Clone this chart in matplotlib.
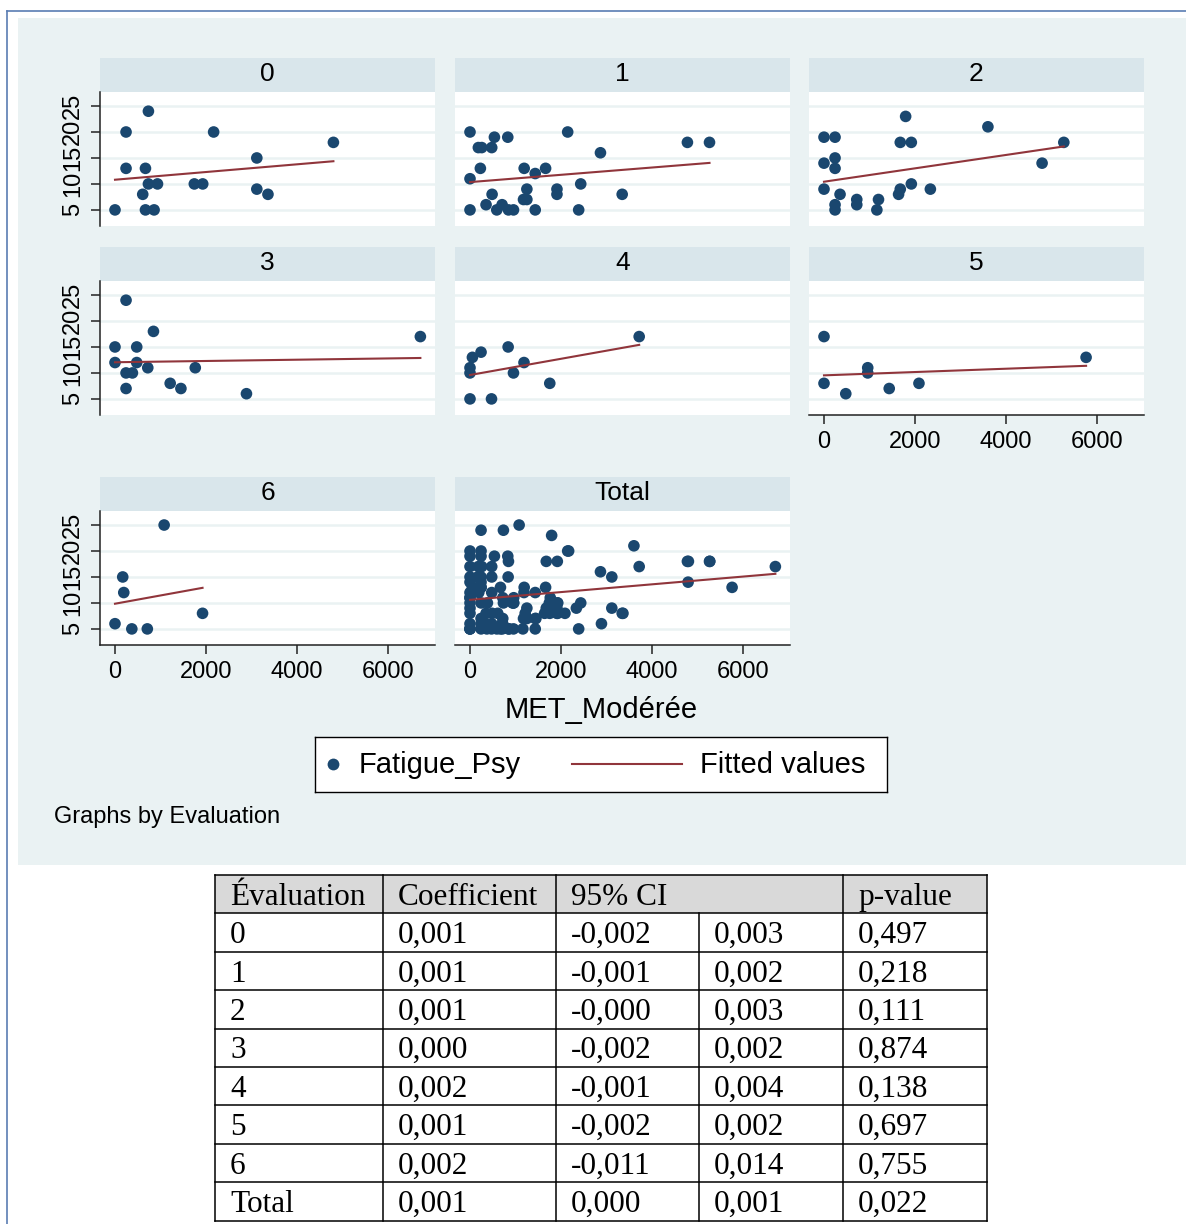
import numpy as np
import matplotlib
matplotlib.use("Agg")
import matplotlib.pyplot as plt
from matplotlib.patches import Rectangle

W, H = 1186, 1224

# MET_Modérée (x) et Fatigue_Psy (y) par évaluation
met_0 = [0, 243, 243, 735, 670, 610, 670, 860, 735, 935, 1745, 1930, 2170, 3120, 3120, 3365, 4805]
fat_0 = [5, 20, 13, 24, 13, 8, 5, 5, 10, 10, 10, 10, 20, 15, 9, 8, 18]

met_1 = [0, 537, 831, 184, 258, 478, 2149, 4783, 5269, 2870, 228, 1192, 1663, 1435, 0, 2436,
         1251, 1913, 1913, 486, 3348, 1177, 1251, 353, 706, 0, 589, 846, 957, 1435, 2391]
fat_1 = [20, 19, 19, 17, 17, 17, 20, 18, 18, 16, 13, 13, 13, 12, 11, 10,
         9, 9, 8, 8, 8, 7, 7, 6, 6, 5, 5, 5, 5, 5, 5]

met_2 = [0, 243, 0, 243, 243, 0, 353, 243, 243, 721, 721, 1199, 1163, 1641, 1678, 1921,
         2340, 1678, 1921, 1796, 3606, 4798, 5276]
fat_2 = [19, 19, 14, 15, 13, 9, 8, 6, 5, 7, 6, 7, 5, 8, 9, 10,
         9, 18, 18, 23, 21, 14, 18]

met_3 = [243, 846, 0, 478, 0, 478, 243, 383, 721, 1766, 1214, 1450, 243, 2892, 6718]
fat_3 = [24, 18, 15, 15, 12, 12, 10, 10, 11, 11, 8, 7, 7, 6, 17]

met_4 = [0, 0, 53, 243, 839, 1188, 956, 1755, 0, 473, 3722]
fat_4 = [10, 11, 13, 14, 15, 12, 10, 8, 5, 5, 17]

met_5 = [0, 0, 479, 962, 962, 1435, 2089, 5766]
fat_5 = [17, 8, 6, 11, 10, 7, 8, 13]

met_6 = [0, 170, 193, 370, 711, 1081, 1926]
fat_6 = [6, 15, 12, 5, 5, 25, 8]

groups = ["0", "1", "2", "3", "4", "5", "6"]
met_all = [met_0, met_1, met_2, met_3, met_4, met_5, met_6]
fat_all = [fat_0, fat_1, fat_2, fat_3, fat_4, fat_5, fat_6]

# tableau des régressions
tab_header = ["Évaluation", "Coefficient", "95% CI", "p-value"]
tab_eval = ["0", "1", "2", "3", "4", "5", "6", "Total"]
tab_coef = ["0,001", "0,001", "0,001", "0,000", "0,002", "0,001", "0,002", "0,001"]
tab_ci_low = ["-0,002", "-0,001", "-0,000", "-0,002", "-0,001", "-0,002", "-0,011", "0,000"]
tab_ci_high = ["0,003", "0,002", "0,003", "0,002", "0,004", "0,002", "0,014", "0,001"]
tab_pval = ["0,497", "0,218", "0,111", "0,874", "0,138", "0,697", "0,755", "0,022"]

# couleurs style Stata s2color
region_col = "#EAF2F3"
strip_col = "#D9E6EB"
navy = "#1A476F"
maroon = "#90353B"
axis_col = "#222222"
border_col = "#5A7DB3"

plt.rcParams["font.family"] = ["Liberation Sans", "DejaVu Sans"]


def box(x0, y0, w, h):
    return [x0 / W, 1 - (y0 + h) / H, w / W, h / H]


fig = plt.figure(figsize=(W / 100, H / 100), dpi=100)

bg = fig.add_axes([0, 0, 1, 1], zorder=-1)
bg.set_xlim(0, W)
bg.set_ylim(H, 0)
bg.axis("off")
bg.add_patch(Rectangle((18, 18), W - 18, 865 - 18, facecolor=region_col, edgecolor="none"))
bg.plot([7, 7], [11, H], color=border_col, lw=1.2)
bg.plot([7, W], [11, 11], color=border_col, lw=1.2)

col_x = [100, 455, 809]
row_top = [58, 247, 477]
PW, SH, PH = 335, 34, 134

panels = [(g, m, f) for g, m, f in zip(groups, met_all, fat_all)]
panels.append(("Total", sum(met_all, []), sum(fat_all, [])))
layout = [(0, 0), (0, 1), (0, 2), (1, 0), (1, 1), (1, 2), (2, 0), (2, 1)]
with_xaxis = {"5", "6", "Total"}

for (label, met, fat), (r, c) in zip(panels, layout):
    x0, y0 = col_x[c], row_top[r]

    st = fig.add_axes(box(x0, y0, PW, SH))
    st.set_facecolor(strip_col)
    st.set_xticks([])
    st.set_yticks([])
    for s in st.spines.values():
        s.set_visible(False)
    st.text(0.5, 0.52, label, ha="center", va="center", fontsize=19, transform=st.transAxes)

    ax = fig.add_axes(box(x0, y0 + SH, PW, PH))
    ax.set_facecolor("white")
    x = np.array(met, dtype=float)
    y = np.array(fat, dtype=float)
    ax.scatter(x, y, s=70, color=navy, edgecolors="none", zorder=3)
    b, a = np.polyfit(x, y, 1)
    xs = np.array([x.min(), x.max()])
    ax.plot(xs, a + b * xs, color=maroon, lw=1.5, zorder=4)

    ax.set_xlim(-330, 7040)
    ax.set_ylim(1.9, 27.7)
    ax.set_yticks([5, 10, 15, 20, 25])
    ax.set_xticks([0, 2000, 4000, 6000])
    ax.yaxis.grid(True, color=region_col, lw=1.8)
    ax.set_axisbelow(True)
    for s in ax.spines.values():
        s.set_visible(False)

    if c == 0:
        ax.spines["left"].set_visible(True)
        ax.spines["left"].set_color(axis_col)
        ax.spines["left"].set_linewidth(1.1)
        ax.tick_params(axis="y", length=6.5, width=1.1, color=axis_col, labelsize=17,
                       labelrotation=90, pad=5)
        for t in ax.get_yticklabels():
            t.set_va("center")
    else:
        ax.tick_params(axis="y", length=0, labelleft=False)

    if label in with_xaxis:
        ax.spines["bottom"].set_visible(True)
        ax.spines["bottom"].set_color(axis_col)
        ax.spines["bottom"].set_linewidth(1.1)
        ax.tick_params(axis="x", length=6.5, width=1.1, color=axis_col, labelsize=17, pad=5)
    else:
        ax.tick_params(axis="x", length=0, labelbottom=False)

fig.text(601 / W, 1 - 710 / H, "MET_Modérée", ha="center", va="center", fontsize=21)

# légende
lg = fig.add_axes(box(315, 737, 572, 55))
lg.set_xlim(0, 572)
lg.set_ylim(0, 55)
lg.set_xticks([])
lg.set_yticks([])
for s in lg.spines.values():
    s.set_color("black")
    s.set_linewidth(1.0)
lg.plot([18], [28], "o", color=navy, ms=8.5, mec="none")
lg.plot([257, 367], [28, 28], color=maroon, lw=1.5)
lg.text(44, 27, "Fatigue_Psy", va="center", ha="left", fontsize=21)
lg.text(385, 27, "Fitted values", va="center", ha="left", fontsize=21)

fig.text(54 / W, 1 - 817 / H, "Graphs by Evaluation", ha="left", va="center", fontsize=17)

# tableau
tx = [215, 383, 556, 699, 843, 987]
ty = [875 + 38.4 * i for i in range(len(tab_eval) + 2)]
bg.add_patch(Rectangle((tx[0], ty[0]), tx[-1] - tx[0], ty[1] - ty[0],
                       facecolor="#D9D9D9", edgecolor="none"))
for yy in ty:
    bg.plot([tx[0], tx[-1]], [yy, yy], color="black", lw=1.1)
for i, xx in enumerate(tx):
    top = ty[1] if i == 3 else ty[0]
    bg.plot([xx, xx], [top, ty[-1]], color="black", lw=1.1)

serif = ["Liberation Serif", "DejaVu Serif"]
head_x = [tx[0], tx[1], tx[2], tx[4]]
for xx, txt in zip(head_x, tab_header):
    bg.text(xx + 15, (ty[0] + ty[1]) / 2 + 3, txt, ha="left", va="center",
            fontsize=22.5, family=serif)
rows = list(zip(tab_eval, tab_coef, tab_ci_low, tab_ci_high, tab_pval))
for i, row in enumerate(rows):
    yc = (ty[i + 1] + ty[i + 2]) / 2 + 3
    for xx, txt in zip(tx[:-1], row):
        bg.text(xx + 15, yc, txt, ha="left", va="center", fontsize=22.5, family=serif)

fig.savefig("out.png", dpi=100, facecolor="white")
